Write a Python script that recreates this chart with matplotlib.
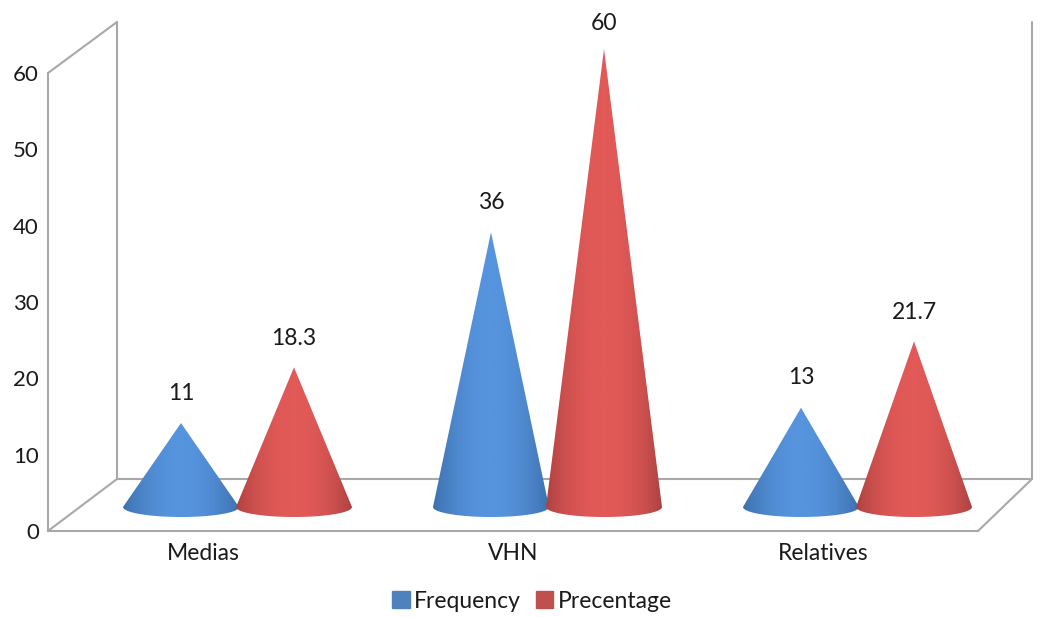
import numpy as np
import matplotlib
matplotlib.use('Agg')
import matplotlib.pyplot as plt
from matplotlib.colors import LinearSegmentedColormap
from matplotlib.patches import Patch, Polygon

categories = ['Medias', 'VHN', 'Relatives']
frequency = [11, 36, 13]
precentage = [18.3, 60, 21.7]
freq_labels = ['11', '36', '13']
prec_labels = ['18.3', '60', '21.7']
yticks = [0, 10, 20, 30, 40, 50, 60]

plt.rcParams['font.family'] = ['Lato', 'DejaVu Sans']

W, H = 1054, 617
fig = plt.figure(figsize=(W/100, H/100), dpi=100)
# front plane of the fake 3d box
ax = fig.add_axes([48/W, 1-531/H, 930/W, 458/H])
ax.patch.set_alpha(0)

grey = '#a8a8a8'
px_x = 3.0/930      # data units per pixel
px_y = 60.0/458

def dx(p): return p*px_x
def dy(p): return p*px_y

def cone(xc, h, cmap):
    half = dx(58)
    minor = dy(10)
    t = np.linspace(0, np.pi, 60)
    xs = xc + half*np.cos(t)
    ys = base - minor*np.sin(t)
    pts = np.column_stack([xs, ys])
    pts = np.vstack([pts, [xc, base+h]])
    im = ax.imshow(shade, cmap=cmap, aspect='auto', vmin=0, vmax=1, zorder=3,
                   extent=[xc-half, xc+half, base-minor, base+h])
    clip = Polygon(pts, closed=True, transform=ax.transData)
    im.set_clip_path(clip)
    im.set_clip_box(fig.bbox)

blue = LinearSegmentedColormap.from_list('b', ['#3a72b0', '#4a82c6', '#5694de'])
red = LinearSegmentedColormap.from_list('r', ['#ad4241', '#c94f4d', '#e25a58'])
u = np.linspace(-1, 1, 200)
shade = (1-np.abs(u)**2).reshape(1, -1)

base = dy(531-507)
centre = [i + dx(34.5) for i in range(len(categories))]

for i in range(len(categories)):
    xb = centre[i] - dx(56.5)
    xr = centre[i] + dx(56.5)
    cone(xb, frequency[i], blue)
    cone(xr, precentage[i], red)
    ax.annotate(freq_labels[i], (xb, base+frequency[i]), xytext=(0, 21.5), textcoords='offset points',
                ha='center', va='center', fontsize=16.5, color='#1a1a1a', zorder=5, annotation_clip=False)
    # the tallest label sits a bit closer to its tip
    off = 18.5 if i == 1 else 21
    ax.annotate(prec_labels[i], (xr, base+precentage[i]), xytext=(0, off), textcoords='offset points',
                ha='center', va='center', fontsize=16.5, color='#1a1a1a', zorder=5, annotation_clip=False)

ax.set_xlim(-0.5, 2.5)
ax.set_ylim(0, 60)
ax.set_xticks(range(len(categories)))
ax.set_xticklabels(categories)
ax.set_yticks(yticks)
ax.tick_params(axis='both', length=0, labelcolor='#1a1a1a')
ax.tick_params(axis='x', pad=9, labelsize=16.5)
ax.tick_params(axis='y', pad=6.5, labelsize=16)

ax.spines['top'].set_visible(False)
ax.spines['right'].set_visible(False)
for s in ['left', 'bottom']:
    ax.spines[s].set_color(grey)
    ax.spines[s].set_linewidth(1.5)

# walls and floor of the box
x0, x1 = -0.5, 2.5
xl = x0 + dx(69)
xr = x1 + dx(54)
yb = dy(52)
yt = 60 + dy(51)
frame = [([x0, xl], [60, yt]), ([xl, xl], [yb, yt]), ([x0, xl], [0, yb]),
         ([xl, xr], [yb, yb]), ([x1, xr], [0, yb]), ([xr, xr], [yb, yt])]
for fx, fy in frame:
    ax.plot(fx, fy, color=grey, lw=1.5, clip_on=False, zorder=1, solid_capstyle='round')

handles = [Patch(color='#4f81bd', label='Frequency'), Patch(color='#c0504d', label='Precentage')]
fig.legend(handles=handles, loc='center', bbox_to_anchor=(532/W, 1-601/H), ncol=2, frameon=False,
           fontsize=16.5, handlelength=0.75, handleheight=0.75, handletextpad=0.18, columnspacing=0.68,
           labelcolor='#1a1a1a')

fig.savefig('out.png', dpi=100)
